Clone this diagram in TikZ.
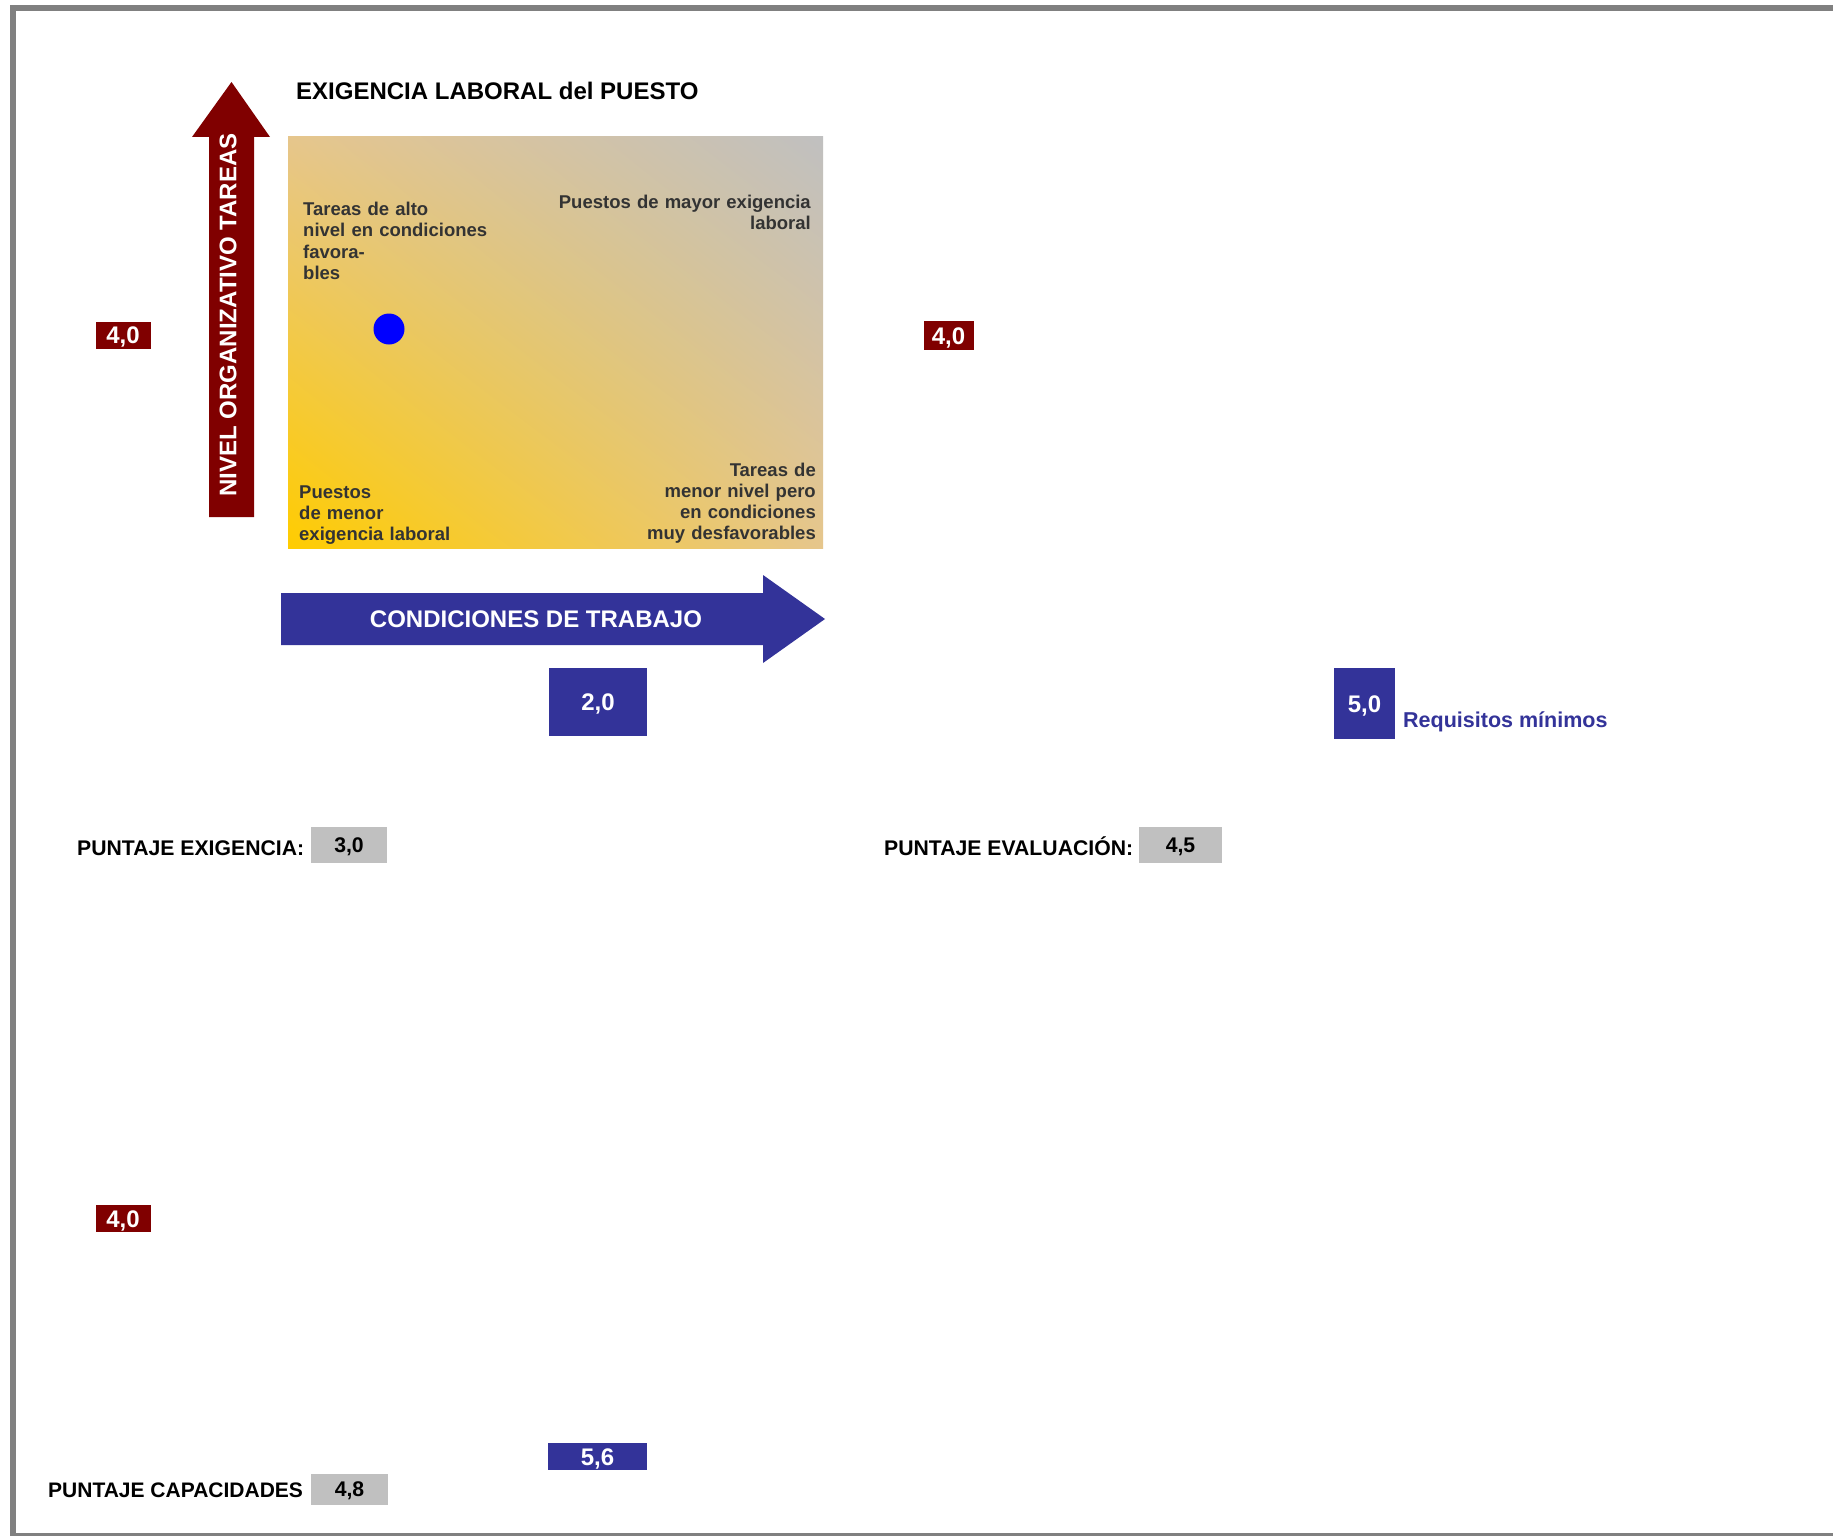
\documentclass[tikz,border=0pt]{standalone}
\usepackage{fontspec}
\setmainfont{Liberation Sans}
\usetikzlibrary{shadings}
\definecolor{bordergray}{HTML}{808080}
\definecolor{darkred}{HTML}{800000}
\definecolor{navyblue}{HTML}{333399}
\definecolor{boxgray}{HTML}{C0C0C0}
\definecolor{txtgray}{HTML}{333333}
\definecolor{quadgold}{HTML}{FFCC00}
\definecolor{quadsilver}{HTML}{C0C0C0}
\definecolor{quadtan}{RGB}{230,198,140}
\tikzset{
  bigfont/.style={font=\bfseries\fontsize{24pt}{28pt}\selectfont},
  midfont/.style={font=\bfseries\fontsize{21.2pt}{25pt}\selectfont},
  quadtxt/.style={font=\bfseries\fontsize{18.5pt}{21.3pt}\selectfont, text=txtgray, inner sep=0pt},
  redval/.style={bigfont, fill=darkred, text=white, inner sep=0pt, text height=17pt, text depth=-4pt},
  blueval/.style={bigfont, fill=navyblue, text=white, inner sep=0pt, text height=17pt, text depth=-2pt},
  grayval/.style={midfont, fill=boxgray, text=black, inner sep=0pt, text height=15pt, text depth=-5pt},
  lbl/.style={midfont, text=black, inner sep=0pt, anchor=base west},
}
\begin{document}
\begin{tikzpicture}[x=1pt, y=-1pt]
\useasboundingbox (0,0) rectangle (1833,1536);
\fill[white] (0,0) rectangle (1833,1536);
% frame
\fill[bordergray] (10,5) rectangle (1833,11);
\fill[bordergray] (10,5) rectangle (16,1536);
\fill[bordergray] (10,1533) rectangle (1833,1536);

% title
\node[bigfont, anchor=base west, inner sep=0pt] (title) at (296,99.5) {EXIGENCIA LABORAL del PUESTO};

% vertical arrow
\fill[darkred] (209,517) -- (209,137) -- (192,137) -- (231.5,82) -- (270,137) -- (254,137) -- (254,517) -- cycle;
\node[bigfont, rotate=90, text=white, inner sep=0pt] (nivel) at (228,315) {NIVEL ORGANIZATIVO TAREAS};

% gradient square
\shade[lower left=quadgold, upper right=quadsilver, upper left=quadtan, lower right=quadtan] (288,548) rectangle (823,137);

\node[quadtxt, anchor=base west, text width=200pt, align=left] (q1) at (303,215.5) {Tareas de alto\\nivel en condiciones\\favora-\\bles};
\node[quadtxt, anchor=base east, text width=260pt, align=right] (q2) at (811,208) {Puestos de mayor exigencia\\laboral};
\node[quadtxt, anchor=base west, text width=200pt, align=left] (q3) at (299,498) {Puestos\\de menor\\exigencia laboral};
\node[quadtxt, anchor=base east, text width=200pt, align=right] (q4) at (816,476) {Tareas de\\menor nivel pero\\en condiciones\\muy desfavorables};

\node[circle, fill=blue, minimum size=31pt, inner sep=0pt] (dot) at (389,329) {};

% red values
\node[redval, minimum width=55pt, minimum height=27pt] (r1) at (123,335) {4,0};
\node[redval, minimum width=50pt, minimum height=29pt] (r2) at (948.5,335.5) {4,0};
\node[redval, minimum width=55pt, minimum height=27pt] (r3) at (123,1218.5) {4,0};

% horizontal arrow
\fill[navyblue] (281,593) -- (763,593) -- (763,575) -- (825,619) -- (763,663) -- (763,645) -- (281,645) -- cycle;
\node[bigfont, text=white, inner sep=0pt] (cond) at (536,619) {CONDICIONES DE TRABAJO};

% blue values
\node[blueval, minimum width=98pt, minimum height=68pt] (b1) at (598,702) {2,0};
\node[blueval, minimum width=61pt, minimum height=71pt] (b2) at (1364.5,703.5) {5,0};
\node[blueval, minimum width=99pt, minimum height=27pt] (b3) at (597.5,1456.5) {5,6};
\node[font=\bfseries\fontsize{21.5pt}{25pt}\selectfont, text=navyblue, inner sep=0pt, anchor=base west] (req) at (1403,727) {Requisitos mínimos};

% scores
\node[lbl] (l1) at (77,855) {PUNTAJE EXIGENCIA:};
\node[grayval, minimum width=76pt, minimum height=36pt] (g1) at (349,845) {3,0};
\node[lbl] (l2) at (884,855) {PUNTAJE EVALUACIÓN:};
\node[grayval, minimum width=83pt, minimum height=36pt] (g2) at (1180.5,845) {4,5};
\node[lbl, font=\bfseries\fontsize{21pt}{25pt}\selectfont] (l3) at (48,1497) {PUNTAJE CAPACIDADES};
\node[grayval, minimum width=77pt, minimum height=31pt] (g3) at (349.5,1489) {4,8};
\end{tikzpicture}
\end{document}
